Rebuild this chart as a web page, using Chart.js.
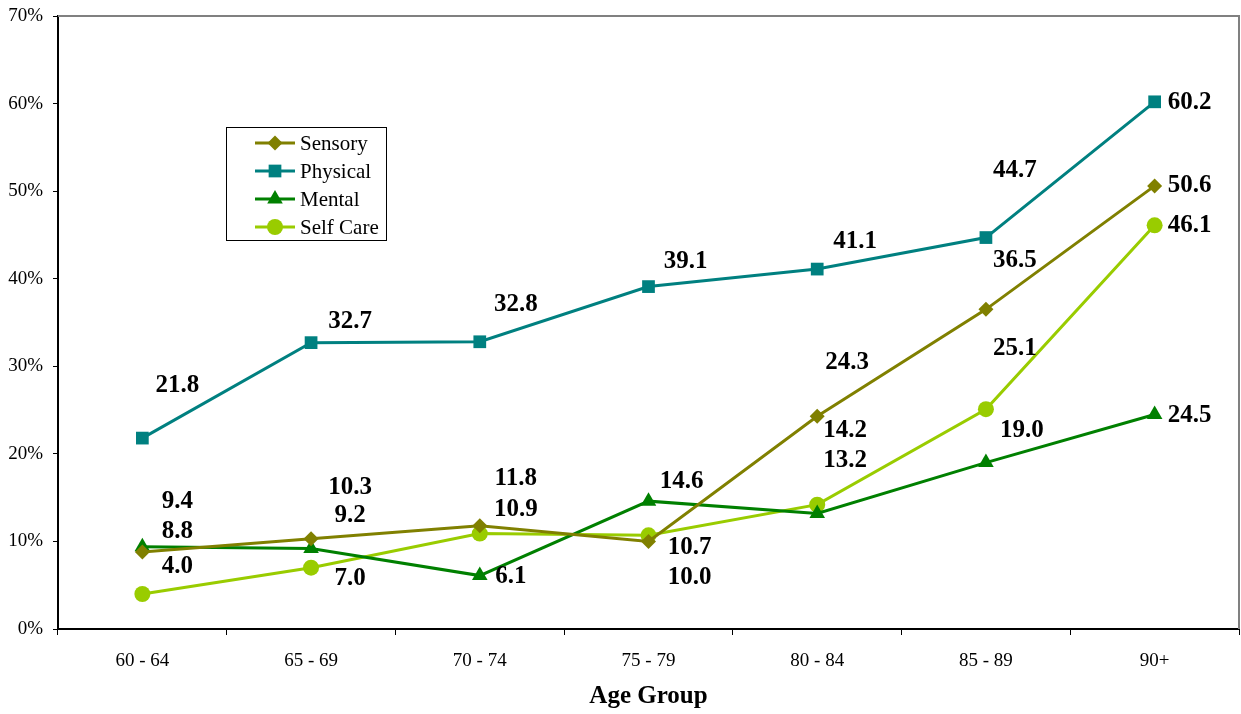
<!DOCTYPE html>
<html>
<head>
<meta charset="utf-8">
<script src="https://cdn.jsdelivr.net/npm/chart.js@4"></script>
<style>
    html, body { margin: 0; padding: 0; background: #ffffff; overflow: hidden; }
    #wrap { width: 1241px; height: 714px; position: relative; }
    canvas { display: block; }
</style>
</head>
<body>
<div id="wrap"><canvas id="chart"></canvas></div>
<script>
const ageGroups = ['60 - 64', '65 - 69', '70 - 74', '75 - 79', '80 - 84', '85 - 89', '90+'];
const sensory = [8.8, 10.3, 11.8, 10.0, 24.3, 36.5, 50.6];
const physical = [21.8, 32.7, 32.8, 39.1, 41.1, 44.7, 60.2];
const mental = [9.4, 9.2, 6.1, 14.6, 13.2, 19.0, 24.5];
const selfCare = [4.0, 7.0, 10.9, 10.7, 14.2, 25.1, 46.1];
const yTicks = [0, 10, 20, 30, 40, 50, 60, 70];

// hand placed data label offsets (px from the point), like the original
const labelOffsets = {
    'Sensory':   [[35, -20], [39, -51], [36, -47], [41, 36], [30, -54], [29, -49], [35, 0]],
    'Physical':  [[35, -53], [39, -21], [36, -37], [37, -25], [38, -28], [29, -67], [35, 1]],
    'Mental':    [[35, -45], [39, -33], [31, 1], [33, -20], [28, -53], [36, -32], [35, 1]],
    'Self Care': [[35, -27], [39, 11], [36, -24], [41, 12], [28, -74], [29, -61], [35, 0]]
};

const serif = "'Liberation Serif', 'Times New Roman', serif";

function series(label, data, color, style, radius) {
    return {
        label: label,
        data: data,
        borderColor: color,
        backgroundColor: color,
        borderWidth: 3,
        pointStyle: style,
        pointRadius: radius,
        pointHoverRadius: radius,
        pointBorderWidth: 0,
        fill: false,
        tension: 0
    };
}

const dataLabels = {
    id: 'dataLabels',
    afterDatasetsDraw(chart) {
        const ctx = chart.ctx;
        ctx.save();
        ctx.font = 'bold 25px ' + serif;
        ctx.fillStyle = '#000000';
        ctx.textAlign = 'center';
        ctx.textBaseline = 'middle';
        chart.data.datasets.forEach((ds, i) => {
            const meta = chart.getDatasetMeta(i);
            meta.data.forEach((pt, j) => {
                const off = labelOffsets[ds.label][j];
                ctx.fillText(ds.data[j].toFixed(1), pt.x + off[0], pt.y + off[1]);
            });
        });
        ctx.restore();
    }
};

const frame = {
    id: 'frame',
    afterDraw(chart) {
        const a = chart.chartArea;
        const ctx = chart.ctx;
        ctx.save();
        ctx.strokeStyle = '#808080';
        ctx.lineWidth = 2;
        ctx.beginPath();
        ctx.moveTo(a.left, a.top);
        ctx.lineTo(a.right, a.top);
        ctx.lineTo(a.right, a.bottom);
        ctx.stroke();
        ctx.restore();
    }
};

const boxLegend = {
    id: 'boxLegend',
    afterDraw(chart) {
        const ctx = chart.ctx;
        const left = 226, top = 127, w = 160, h = 113;
        ctx.save();
        ctx.fillStyle = '#ffffff';
        ctx.fillRect(left, top, w, h);
        ctx.strokeStyle = '#000000';
        ctx.lineWidth = 1;
        ctx.strokeRect(left + 0.5, top + 0.5, w, h);
        ctx.font = '21px ' + serif;
        ctx.textBaseline = 'middle';
        ctx.textAlign = 'left';
        chart.data.datasets.forEach((ds, i) => {
            const y = top + 16 + i * 28;
            ctx.strokeStyle = ds.borderColor;
            ctx.lineWidth = 3;
            ctx.beginPath();
            ctx.moveTo(255, y);
            ctx.lineTo(295, y);
            ctx.stroke();
            ctx.fillStyle = ds.backgroundColor;
            Chart.helpers.drawPoint(ctx, {
                pointStyle: ds.pointStyle,
                radius: ds.pointRadius,
                rotation: 0,
                borderWidth: 0
            }, 275, y);
            ctx.fillStyle = '#000000';
            ctx.fillText(ds.label, 300, y + 1);
        });
        ctx.restore();
    }
};

const chart = new Chart(document.getElementById('chart').getContext('2d'), {
    type: 'line',
    data: {
        labels: ageGroups,
        datasets: [
            series('Sensory', sensory, '#808000', 'rectRot', 7.5),
            series('Physical', physical, '#008080', 'rect', 9),
            series('Mental', mental, '#008000', 'triangle', 9),
            series('Self Care', selfCare, '#99CC00', 'circle', 8)
        ]
    },
    options: {
        responsive: true,
        maintainAspectRatio: false,
        animation: false,
        layout: {
            autoPadding: false,
            padding: { top: 16, right: 2, left: 0, bottom: 0 }
        },
        scales: {
            x: {
                offset: true,
                grid: {
                    offset: true,
                    drawOnChartArea: false,
                    color: '#000000',
                    tickLength: 6
                },
                border: { color: '#000000', width: 2 },
                ticks: {
                    color: '#000000',
                    padding: 15,
                    font: { family: serif, size: 19 },
                    maxRotation: 0
                },
                title: {
                    display: true,
                    text: 'Age Group',
                    color: '#000000',
                    font: { family: serif, size: 25, weight: 'bold' },
                    padding: { top: 0, bottom: 2 }
                },
                afterFit(scale) {
                    scale.height = 85;
                    scale.paddingLeft = 0;
                    scale.paddingRight = 0;
                }
            },
            y: {
                min: 0,
                max: 70,
                afterBuildTicks(scale) {
                    scale.ticks = yTicks.map(v => ({ value: v }));
                },
                grid: {
                    drawOnChartArea: false,
                    color: '#000000',
                    tickLength: 5
                },
                border: { color: '#000000', width: 2 },
                ticks: {
                    color: '#000000',
                    padding: 10,
                    font: { family: serif, size: 19 },
                    callback: v => v + '%'
                },
                afterFit(scale) {
                    scale.width = 58;
                    scale.paddingTop = 0;
                    scale.paddingBottom = 0;
                }
            }
        },
        plugins: {
            legend: { display: false },
            title: { display: false },
            tooltip: { enabled: false }
        }
    },
    plugins: [dataLabels, frame, boxLegend]
});
window.chart = chart;
</script>
</body>
</html>
